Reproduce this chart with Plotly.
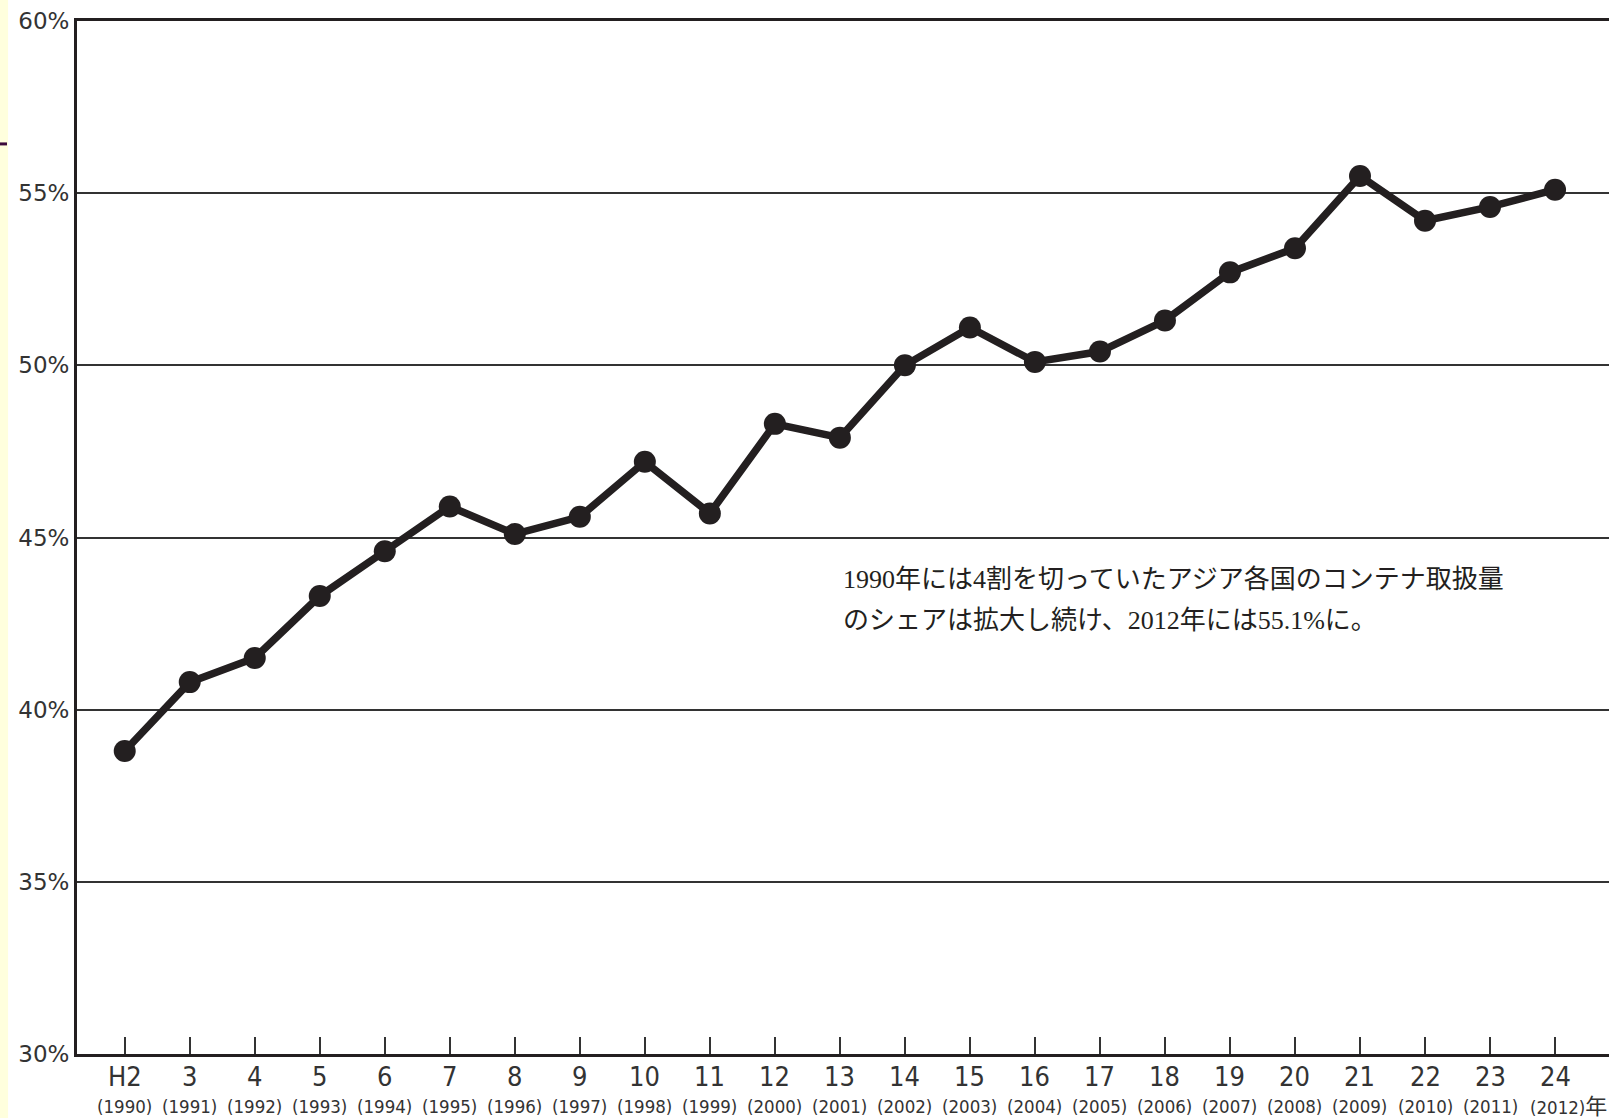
import plotly.graph_objects as go

# Data
era_labels = ["H2", "3", "4", "5", "6", "7", "8", "9", "10", "11", "12", "13",
              "14", "15", "16", "17", "18", "19", "20", "21", "22", "23", "24"]
year_labels = ["(1990)", "(1991)", "(1992)", "(1993)", "(1994)", "(1995)", "(1996)",
               "(1997)", "(1998)", "(1999)", "(2000)", "(2001)", "(2002)", "(2003)",
               "(2004)", "(2005)", "(2006)", "(2007)", "(2008)", "(2009)", "(2010)",
               "(2011)", "(2012)年"]
share_pct = [38.8, 40.8, 41.5, 43.3, 44.6, 45.9, 45.1, 45.6, 47.2, 45.7, 48.3, 47.9,
             50.0, 51.1, 50.1, 50.4, 51.3, 52.7, 53.4, 55.5, 54.2, 54.6, 55.1]
y_ticks = [30, 35, 40, 45, 50, 55, 60]
y_tick_text = ["30%", "35%", "40%", "45%", "50%", "55%", "60%"]
note_lines = ["1990年には4割を切っていたアジア各国のコンテナ取扱量",
              "のシェアは拡大し続け、2012年には55.1%に。"]

x_idx = list(range(len(era_labels)))

fig = go.Figure()
fig.add_trace(go.Scatter(
    x=x_idx, y=share_pct, mode="lines+markers",
    line=dict(color="#231f20", width=7.5),
    marker=dict(color="#231f20", size=22),
    showlegend=False, hoverinfo="skip",
))

ann = []
gfont = "Liberation Sans Narrow, DejaVu Sans Condensed, Arial Narrow, Liberation Sans, sans-serif"
for i, (e, yl) in enumerate(zip(era_labels, year_labels)):
    ann.append(dict(x=i, y=-0.0220, xref="x", yref="paper", text=e, showarrow=False,
                    xanchor="center", yanchor="middle",
                    font=dict(family=gfont, size=27, color="#333333")))
    if yl.endswith("年"):
        txt = yl[:-1] + "<span style='font-size:22px'>年</span>"
        ann.append(dict(x=i, y=-0.0510, xref="x", yref="paper", text=txt, showarrow=False,
                        xanchor="left", xshift=-27, yanchor="middle",
                        font=dict(family=gfont + ", Noto Sans CJK JP", size=18.5, color="#333333")))
    else:
        ann.append(dict(x=i, y=-0.0510, xref="x", yref="paper", text=yl, showarrow=False,
                        xanchor="center", yanchor="middle",
                        font=dict(family=gfont, size=18.5, color="#333333")))

for k, line in enumerate(note_lines):
    ann.append(dict(x=0.4987, y=0.4589 - k * 0.0397, xref="paper", yref="paper", text=line,
                    showarrow=False, xanchor="left", yanchor="middle", align="left",
                    font=dict(family="Liberation Serif, Noto Sans CJK JP, serif", size=26,
                              color="#231f20")))

fig.update_layout(
    width=1609, height=1118,
    margin=dict(l=77, r=0, t=21, b=64),
    paper_bgcolor="white", plot_bgcolor="white",
    annotations=ann,
    shapes=[
        dict(type="rect", xref="paper", yref="paper", x0=-0.0503, x1=-0.0450,
             y0=-0.07, y1=1.03, fillcolor="#ffffdd", line=dict(width=0), layer="below"),
        dict(type="line", xref="paper", yref="paper", x0=-0.0503, x1=-0.0457,
             y0=0.881, y1=0.881, line=dict(color="#3b0a3b", width=3)),
    ],
)
fig.update_xaxes(
    range=[-0.734, 22.83], showgrid=False, zeroline=False,
    tickvals=x_idx, ticktext=[""] * len(x_idx), ticks="inside", ticklen=17,
    tickwidth=1.5, tickcolor="#333333",
    showline=True, linewidth=3, linecolor="#231f20", mirror=True,
)
fig.update_yaxes(
    range=[30, 60], tickvals=y_ticks, ticktext=y_tick_text,
    showgrid=True, gridcolor="#333333", gridwidth=1.5, zeroline=False,
    showline=True, linewidth=3, linecolor="#231f20",
    tickfont=dict(family="DejaVu Sans, sans-serif", size=23, color="#333333"),
    ticks="", ticklabelstandoff=0,
)

fig.write_html("out.html", config={"displayModeBar": False},
               post_script="document.body.style.margin='0';document.body.style.overflow='hidden';")
